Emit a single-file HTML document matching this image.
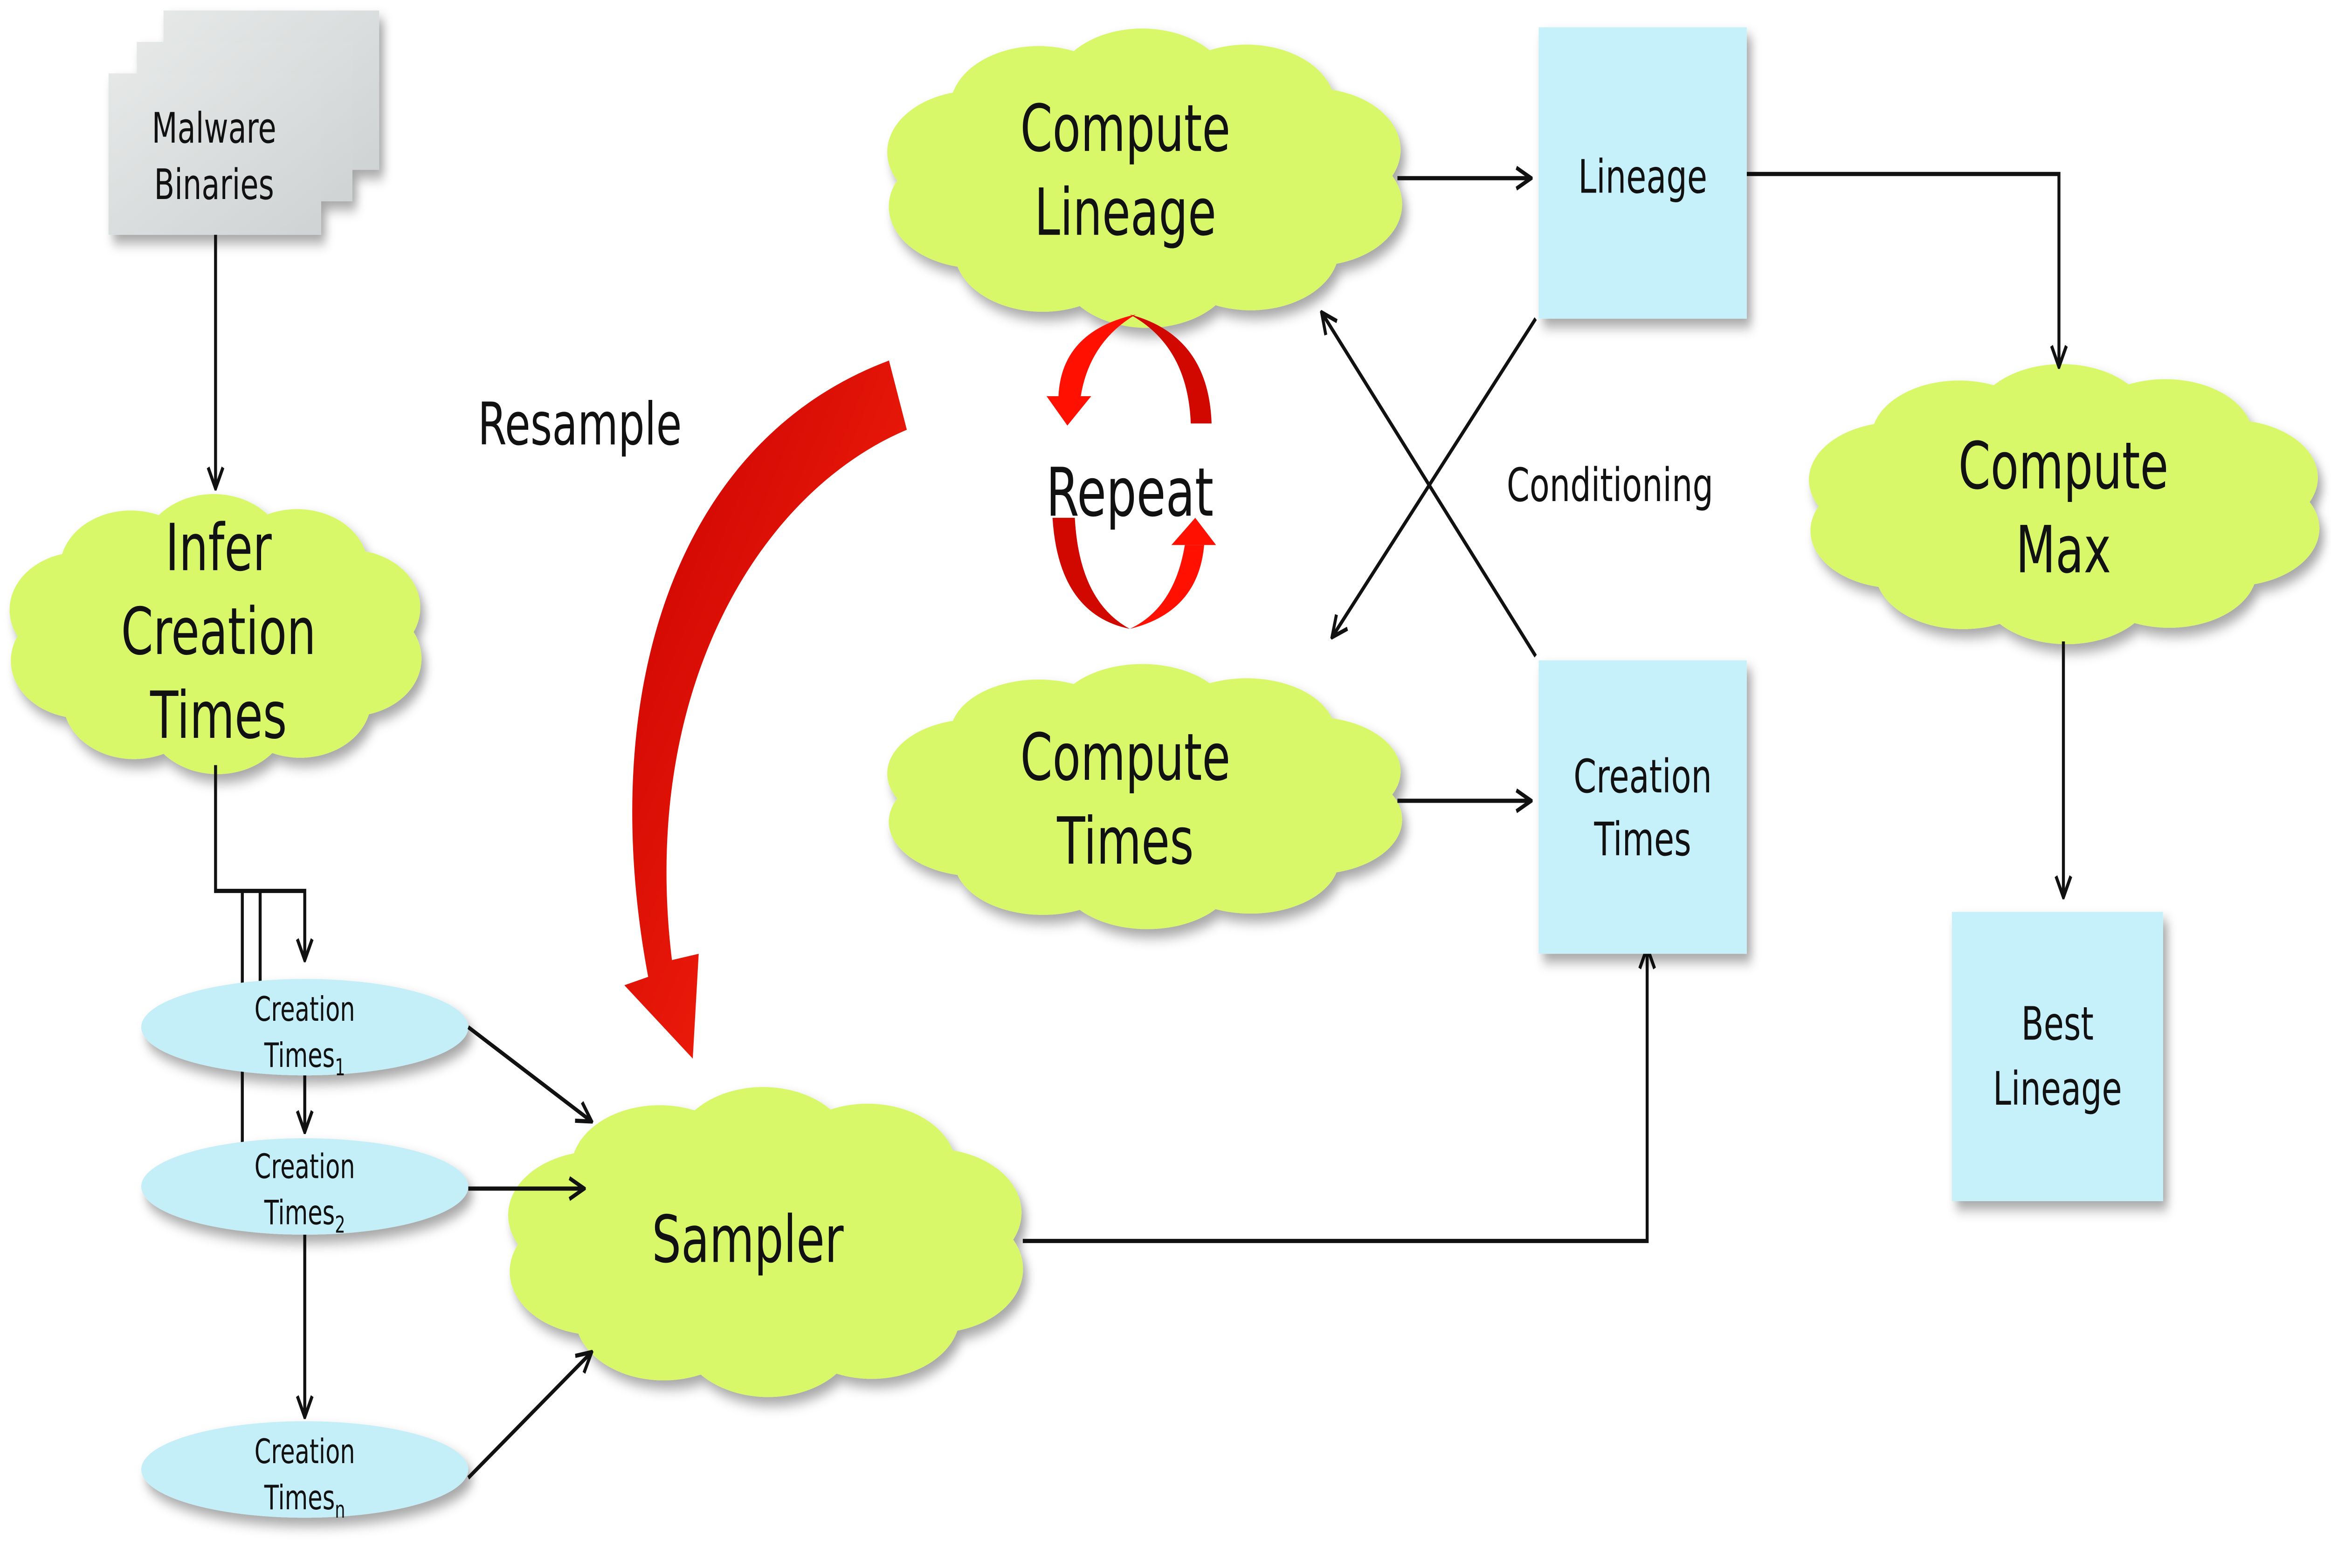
<!DOCTYPE html>
<html><head><meta charset="utf-8"><style>
html,body{margin:0;padding:0;background:#fff;overflow:hidden;width:100%;height:100%;}
svg{display:block;position:absolute;left:0;top:0;width:100vw;height:100vh;}
text{font-family:"DejaVu Sans","Liberation Sans",sans-serif;fill:#111;}
</style></head><body>
<svg viewBox="0 0 1568 748" preserveAspectRatio="none" xmlns="http://www.w3.org/2000/svg">
<defs>
<marker id="ah2" viewBox="0 0 12 12" refX="11" refY="6" markerWidth="12" markerHeight="12" orient="auto" markerUnits="userSpaceOnUse">
<path d="M1,1 L11,6 L1,11" fill="none" stroke="#111" stroke-width="2"/></marker>
<linearGradient id="gr" x1="0" y1="0" x2="1" y2="1"><stop offset="0" stop-color="#e6e8e8"/><stop offset="1" stop-color="#cfd3d3"/></linearGradient>
<linearGradient id="red" x1="0" y1="0" x2="1" y2="1"><stop offset="0" stop-color="#c80000"/><stop offset="1" stop-color="#ff2a10"/></linearGradient>
<filter id="sh" x="-10%" y="-10%" width="130%" height="130%"><feDropShadow dx="3" dy="4" stdDeviation="3" flood-color="#000" flood-opacity="0.35"/></filter>
</defs>

<g filter="url(#sh)">
<rect x="110" y="5" width="145" height="76" fill="url(#gr)"/>
<rect x="92" y="20" width="145" height="76" fill="url(#gr)"/>
<rect x="73" y="35" width="143" height="77" fill="url(#gr)"/>
</g>
<text x="144" y="68" font-size="20" text-anchor="middle">Malware</text>
<text x="144" y="95" font-size="20" text-anchor="middle">Binaries</text>
<line x1="145" y1="112" x2="145" y2="233" stroke="#111" stroke-width="2" marker-end="url(#ah2)"/>

<g id="clouds" filter="url(#sh)" fill="#d8f86a"></g>

<text x="147" y="272" font-size="31" text-anchor="middle">Infer</text>
<text x="147" y="312" font-size="31" text-anchor="middle">Creation</text>
<text x="147" y="352" font-size="31" text-anchor="middle">Times</text>

<g stroke="#111" stroke-width="2" fill="none">
<polyline points="145,365 145,425 205,425 205,458" marker-end="url(#ah2)"/>
<line x1="163" y1="425" x2="163" y2="568"/>
<line x1="175" y1="425" x2="175" y2="480"/>
<line x1="205" y1="510" x2="205" y2="540" marker-end="url(#ah2)"/>
<line x1="205" y1="588" x2="205" y2="676" marker-end="url(#ah2)"/>
</g>
<g filter="url(#sh)" fill="#c4eef8">
<ellipse cx="205" cy="490" rx="110" ry="23"/>
<ellipse cx="205" cy="566" rx="110" ry="23"/>
<ellipse cx="205" cy="701" rx="110" ry="23"/>
</g>
<g font-size="16" text-anchor="middle">
<text x="205" y="487">Creation</text><text x="205" y="509">Times<tspan font-size="11" dy="4">1</tspan></text>
<text x="205" y="562">Creation</text><text x="205" y="584">Times<tspan font-size="11" dy="4">2</tspan></text>
<text x="205" y="698">Creation</text><text x="205" y="720">Times<tspan font-size="11" dy="4">n</tspan></text>
</g>
<g stroke="#111" stroke-width="2" fill="none">
<line x1="315" y1="490" x2="398" y2="535" marker-end="url(#ah2)"/>
<line x1="315" y1="567" x2="393" y2="567" marker-end="url(#ah2)"/>
<line x1="315" y1="705" x2="398" y2="645" marker-end="url(#ah2)"/>
<polyline points="688,592 1108,592 1108,452" marker-end="url(#ah2)"/>
<line x1="940" y1="85" x2="1030" y2="85" marker-end="url(#ah2)"/>
<line x1="940" y1="382" x2="1030" y2="382" marker-end="url(#ah2)"/>
<polyline points="1175,83 1385,83 1385,175" marker-end="url(#ah2)"/>
<line x1="1388" y1="306" x2="1388" y2="428" marker-end="url(#ah2)"/>
<line x1="1033" y1="152" x2="896" y2="304" marker-end="url(#ah2)"/>
<line x1="1033" y1="313" x2="889" y2="149" marker-end="url(#ah2)"/>
</g>

<text x="503" y="602" font-size="31" text-anchor="middle">Sampler</text>
<text x="757" y="72" font-size="31" text-anchor="middle">Compute</text>
<text x="757" y="112" font-size="31" text-anchor="middle">Lineage</text>
<text x="757" y="372" font-size="31" text-anchor="middle">Compute</text>
<text x="757" y="412" font-size="31" text-anchor="middle">Times</text>
<text x="1388" y="233" font-size="31" text-anchor="middle">Compute</text>
<text x="1388" y="273" font-size="31" text-anchor="middle">Max</text>

<g filter="url(#sh)" fill="#c6f1fb">
<rect x="1035" y="13" width="140" height="139"/>
<rect x="1035" y="315" width="140" height="140"/>
<rect x="1313" y="435" width="142" height="138"/>
</g>
<text x="1105" y="92" font-size="22" text-anchor="middle">Lineage</text>
<text x="1105" y="378" font-size="22" text-anchor="middle">Creation</text>
<text x="1105" y="408" font-size="22" text-anchor="middle">Times</text>
<text x="1384" y="496" font-size="22" text-anchor="middle">Best</text>
<text x="1384" y="527" font-size="22" text-anchor="middle">Lineage</text>
<text x="1083" y="239" font-size="22" text-anchor="middle">Conditioning</text>
<text x="390" y="212" font-size="28" text-anchor="middle">Resample</text>

<path d="M598,172 L610,205 C510,235 430,330 452,458 L470,455 L466,505 L420,470 L436,466 C400,330 455,210 598,172 Z" fill="url(#red)"/>

<path d="M764,150 Q714,158 712,189 L727,189 Q733,163 764,150 Z" fill="#ff1000"/>
<polygon points="704,189 734,189 718,203" fill="#ff1000"/>
<path d="M760,150 Q813,160 815,202 L801,202 Q799,165 760,150 Z" fill="#d00800"/>
<path d="M708,247 L723,247 Q726,287 760,300 Q712,293 708,247 Z" fill="#d00800"/>
<path d="M760,300 Q806,292 810,260 L797,260 Q790,290 760,300 Z" fill="#ff1000"/>
<polygon points="788,260 818,260 804,247" fill="#ff1000"/>
<text x="760" y="246" font-size="32" text-anchor="middle">Repeat</text>
</svg>
<script>
(function(){
var g=document.getElementById('clouds');var ns='http://www.w3.org/2000/svg';
function cloud(x0,y0,x1,y1){
 var cx=(x0+x1)/2,cy=(y0+y1)/2,rx=(x1-x0)/2,ry=(y1-y0)/2;
 var e=document.createElementNS(ns,'ellipse');e.setAttribute('cx',cx);e.setAttribute('cy',cy);
 e.setAttribute('rx',rx*0.82);e.setAttribute('ry',ry*0.72);g.appendChild(e);
 var n=10;
 for(var i=0;i<n;i++){var a=i/n*2*Math.PI+0.3;
  var bx=cx+Math.cos(a)*rx*0.68,by=cy+Math.sin(a)*ry*0.6;
  var b=document.createElementNS(ns,'ellipse');b.setAttribute('cx',bx);b.setAttribute('cy',by);
  b.setAttribute('rx',rx*0.34);b.setAttribute('ry',ry*0.42);g.appendChild(b);}
}
cloud(5,237,285,368);
cloud(340,520,690,665);
cloud(595,15,945,155);
cloud(595,318,945,442);
cloud(1215,175,1562,306);
})();
</script>
</body></html>
